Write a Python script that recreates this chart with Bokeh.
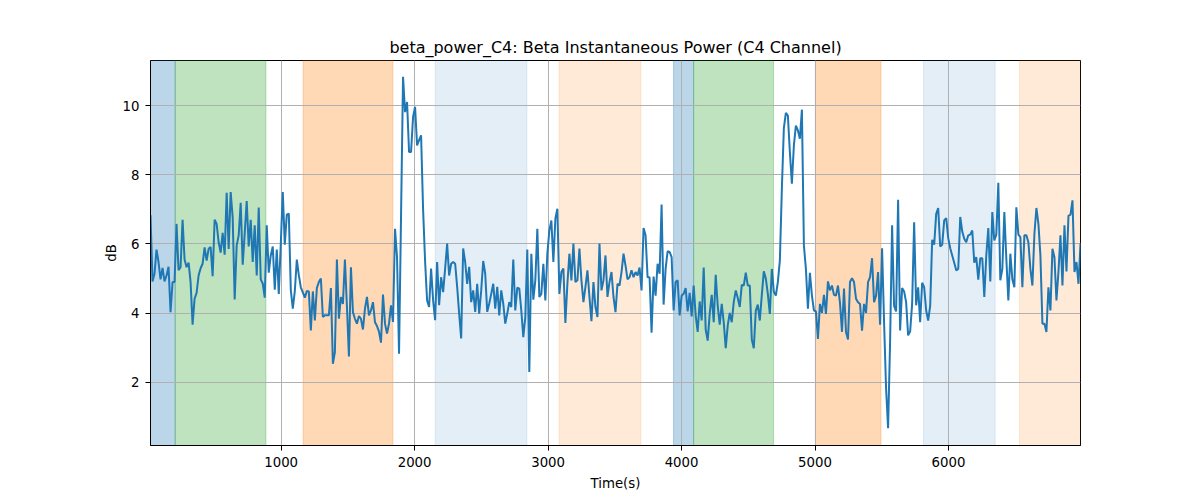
import numpy as np
from bokeh.plotting import figure
from bokeh.models import Range1d, FixedTicker, ColumnDataSource
from bokeh.embed import file_html
from bokeh.resources import INLINE

# ---- data ----
seg_a = [6.84, 4.92, 5.14, 5.84, 5.48, 4.98, 5.31, 4.92, 5.09, 5.34,
         4.03, 4.9, 4.9, 6.58, 5.24, 5.33, 6.70, 5.55, 5.33, 5.46,
         4.9, 3.67, 4.42, 4.59, 5.09, 5.3, 5.43, 5.9, 5.52, 5.86,
         5.91, 5.07, 6.70, 6.58, 6.05, 5.75, 6.32, 5.69, 7.48, 5.86,
         7.5, 6.77, 4.40, 5.96, 6.25, 7.19, 5.40, 6.3, 7.24, 5.93,
         6.70, 5.48, 6.54, 5.09, 7.05, 4.98, 4.86, 4.45, 6.54, 5.17,
         5.67, 5.93, 4.68, 5.84, 4.56, 6.0, 7.5, 5.98, 6.85, 6.88,
         4.67, 4.13, 4.64, 5.55, 5.1, 4.75, 4.6, 4.45, 4.64, 4.63,
         3.5, 4.63, 3.79, 4.73, 4.9, 5.0, 3.89, 3.94, 3.94, 3.94,
         4.73, 2.54, 2.88, 5.55, 3.84, 4.47, 4.27, 5.55, 4.2, 2.75,
         5.33, 4.03, 3.84, 3.70, 3.92, 3.84, 3.53, 4.13, 4.47, 3.94,
         4.08, 4.32, 3.74, 3.63, 3.47, 3.15, 4.54]
seg_b = [3.70, 3.41, 3.70, 4.23, 3.75, 6.44, 5.62, 2.83, 6.8, 10.83,
         9.81, 10.1, 8.66, 8.66, 9.67, 9.96, 8.85, 9.0, 9.14, 7.0,
         5.5, 4.37, 4.18, 5.29, 4.37, 3.80, 5.48, 4.23, 5.04, 4.61,
         5.29, 6.01, 5.09, 5.43, 5.48, 5.43, 4.76, 3.99, 3.27, 5.87,
         5.48, 4.85, 5.34, 4.32, 4.66, 4.04, 4.85, 3.99, 4.66, 5.51,
         5.14, 4.04, 4.28, 4.56, 4.85, 4.13, 4.76, 3.94, 4.66, 4.28]
seg_c = [3.70, 3.99, 4.32, 4.18, 5.55, 4.08, 4.74, 4.71, 4.08, 3.31,
         3.89, 5.84, 2.30, 5.72, 4.39, 4.95, 6.44, 4.47, 4.56, 5.43,
         4.37, 5.72, 6.39, 6.68, 5.48, 6.73, 7.02, 4.56, 5.19, 5.29,
         3.72, 4.85, 5.72, 4.95, 6.01, 4.90, 4.95, 5.87, 4.95, 4.32,
         4.76, 5.24, 4.47, 3.77, 4.90, 4.18, 3.89, 6.01, 4.66, 4.95,
         5.67, 4.47, 4.90, 5.19, 4.47, 4.03, 4.85, 4.80, 5.19]
seg_d = [5.72, 5.38, 4.98, 5.04, 5.24, 5.04, 5.19, 5.09, 5.32, 4.66,
         6.46, 6.25, 5.04, 5.04, 3.44, 5.06, 4.51, 5.43, 5.14, 7.14,
         4.25, 5.28, 5.79, 5.77, 5.62, 4.08, 4.90, 4.95, 3.94, 4.51,
         4.56, 4.73, 4.05, 4.59, 3.91, 4.80, 3.94, 3.46, 4.34, 3.79,
         5.32, 3.53, 3.21, 3.98, 4.53, 3.74, 5.11, 4.21, 3.67, 4.27,
         3.74, 2.99, 3.65, 4.01, 3.74, 4.32, 4.66, 4.44, 4.18, 4.82,
         4.80, 5.17, 4.80, 4.80, 3.24, 2.99, 4.08, 4.25, 3.79, 4.53,
         5.21, 5.00, 4.56, 3.98, 5.28, 4.62, 4.51, 4.90, 5.52, 7.59,
         9.35, 9.79, 9.71, 8.65, 7.74, 8.85, 9.42, 9.28, 9.04, 9.88,
         5.96, 5.28, 4.13, 5.17, 4.51, 4.08, 4.05, 3.26, 4.27, 4.01,
         4.53, 3.98, 4.92, 4.66, 4.80, 4.53, 4.51, 4.80, 4.30, 3.46,
         4.71, 3.46, 3.24, 4.90, 5.01, 4.90]
seg_e = [4.42, 4.32, 4.27, 3.50, 4.27, 4.01, 4.90, 5.04, 5.59, 4.32,
         4.51, 5.19, 3.67, 5.88, 3.74, 1.82, 0.68, 3.17, 6.54, 4.21,
         4.05, 7.28, 3.50, 4.73, 4.63, 4.32, 3.36, 3.47, 4.27, 6.63,
         4.23, 4.75, 3.74, 4.88, 4.75, 4.08, 3.79, 4.21, 6.12, 5.98,
         6.87, 7.04, 5.93, 5.98, 6.68, 6.75, 6.17, 5.88, 5.67, 5.46,
         5.24, 5.28, 6.78, 6.36, 6.15, 6.05, 6.25, 6.27, 6.39, 5.46,
         5.62, 4.97, 5.59, 5.59, 4.47, 5.67, 6.46, 4.92, 6.92, 6.10,
         6.27, 7.77, 4.95, 5.28, 6.92, 5.57, 4.37, 5.72, 4.98, 4.75,
         7.06, 6.27, 6.20, 4.75, 6.25, 6.25, 6.05, 5.28, 4.80, 6.29,
         7.04, 6.58, 5.67, 3.70, 3.70, 3.46, 4.75, 4.08, 5.86, 5.62,
         4.37, 5.19, 6.25, 4.80, 6.54, 5.21, 6.82, 6.84, 7.26, 5.19,
         5.48, 4.85, 6.01]

power_db = seg_a + seg_b + seg_c + seg_d + seg_e
time_start, time_end = 21.0, 6989.0
time_s = np.linspace(time_start, time_end, len(power_db))

span_start = [0, 206, 1165, 2154, 3083, 3940, 4090, 5002, 5813, 6532]
span_end = [206, 886, 1837, 2841, 3695, 4090, 4689, 5494, 6350, 7000]
span_color = ["#1f77b4", "#2ca02c", "#ff7f0e", "#1f77b4", "#ff7f0e",
              "#1f77b4", "#2ca02c", "#ff7f0e", "#1f77b4", "#ff7f0e"]
span_alpha = [0.3, 0.3, 0.3, 0.12, 0.16, 0.3, 0.3, 0.3, 0.12, 0.16]

x_ticks = [1000, 2000, 3000, 4000, 5000, 6000]
y_ticks = [2, 4, 6, 8, 10]
x_limits = (21, 6989)
y_limits = (0.18, 11.30)

FONT = "DejaVu Sans"

p = figure(width=1200, height=500, output_backend="svg", toolbar_location=None,
           x_range=Range1d(*x_limits), y_range=Range1d(*y_limits),
           title="beta_power_C4: Beta Instantaneous Power (C4 Channel)",
           min_border_left=150, min_border_right=120,
           min_border_top=60, min_border_bottom=55)

span_src = ColumnDataSource(dict(left=span_start, right=span_end,
                                 bottom=[-100] * len(span_start), top=[100] * len(span_start),
                                 color=span_color, alpha=span_alpha))
r_span = p.quad(left="left", right="right", bottom="bottom", top="top", source=span_src,
                fill_color="color", fill_alpha="alpha", line_color="color",
                line_alpha="alpha", line_width=1)
r_span.level = "image"

p.line(time_s, power_db, line_color="#1f77b4", line_width=2)

p.title.text_font = FONT
p.title.text_font_size = "16px"
p.title.text_font_style = "normal"
p.title.align = "center"
p.title.text_color = "black"
p.title.standoff = 8

p.xaxis.ticker = FixedTicker(ticks=x_ticks)
p.yaxis.ticker = FixedTicker(ticks=y_ticks)
p.xaxis.axis_label = "Time(s)"
p.yaxis.axis_label = "dB"
for ax in (p.xaxis, p.yaxis):
    ax.axis_label_text_font = FONT
    ax.axis_label_text_font_size = "13.3px"
    ax.axis_label_text_font_style = "normal"
    ax.axis_label_text_color = "black"
    ax.major_label_text_font = FONT
    ax.major_label_text_font_size = "13.3px"
    ax.major_label_text_color = "black"
    ax.major_tick_in = 0
    ax.major_tick_out = 5
    ax.minor_tick_in = 0
    ax.minor_tick_out = 0
    ax.major_tick_line_color = "black"
    ax.axis_line_color = "black"
    ax.axis_line_width = 1
p.xaxis.major_label_standoff = 6
p.xaxis.axis_label_standoff = 6
p.yaxis.major_label_standoff = 6
p.yaxis.axis_label_standoff = 1

p.xgrid.ticker = FixedTicker(ticks=x_ticks)
p.ygrid.ticker = FixedTicker(ticks=y_ticks)
p.grid.grid_line_color = "#b0b0b0"
p.grid.grid_line_width = 1
p.grid.grid_line_alpha = 1

p.outline_line_color = "black"
p.outline_line_width = 1
p.outline_line_alpha = 1
p.background_fill_color = "white"
p.border_fill_color = "white"

open("out.html", "w").write(file_html(p, INLINE))
